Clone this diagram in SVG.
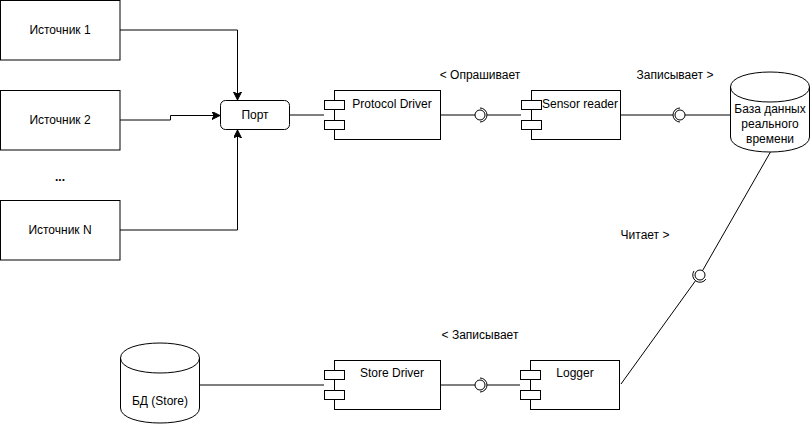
<svg xmlns="http://www.w3.org/2000/svg" width="811" height="426" viewBox="0 0 811 426">
<style>
.box{fill:#fff;stroke:#000;stroke-width:1}
.t{font-family:"Liberation Sans",Arial,sans-serif;font-size:12px;fill:#000;text-anchor:middle}
.ln{fill:none;stroke:#000;stroke-width:1}
</style>
<defs>
<marker id="arr" markerWidth="10" markerHeight="10" refX="8" refY="4" orient="auto" markerUnits="userSpaceOnUse">
<path d="M0,0 L8,4 L0,8 L2,4 Z" fill="#000" stroke="#000" stroke-width="1"/>
</marker>
</defs>
<rect width="811" height="426" fill="#fff"/>
<g id="connectors">
<path class="ln" d="M120,30 H237.5 V100" marker-end="url(#arr)"/>
<path class="ln" d="M120,120 H170.5 V115.5 H220" marker-end="url(#arr)"/>
<path class="ln" d="M120,230 H237.5 V130" marker-end="url(#arr)"/>
<path class="ln" d="M290,115 H324"/>
<path class="ln" d="M441,115 H475"/>
<circle class="ln" cx="480" cy="115" r="5"/>
<path class="ln" d="M480,108 A7,7 0 0 1 480,122"/>
<path class="ln" d="M487,115 H521"/>
<path class="ln" d="M620,115 H673"/>
<path class="ln" d="M680,108 A7,7 0 0 0 680,122"/>
<circle class="ln" cx="680" cy="115" r="5"/>
<path class="ln" d="M685,115 H730"/>
<path class="ln" d="M771,151 L702.5,270.7"/>
<circle class="ln" cx="700" cy="275" r="5"/>
<path class="ln" d="M706,279.1 A7,7 0 0 1 694,270.9"/>
<path class="ln" d="M695.3,281 L621,384"/>
<path class="ln" d="M200,385 H324"/>
<path class="ln" d="M441,385 H475"/>
<circle class="ln" cx="480" cy="385" r="5"/>
<path class="ln" d="M480,378 A7,7 0 0 1 480,392"/>
<path class="ln" d="M487,385 H520"/>
<text class="t" x="480" y="79">&lt; Опрашивает</text>
<text class="t" x="675" y="79">Записывает &gt;</text>
<text class="t" x="645" y="239">Читает &gt;</text>
<text class="t" x="480" y="339">&lt; Записывает</text>
</g>
<g id="src1"><rect class="box" x="0.5" y="0.5" width="119.5" height="59.5"/><text class="t" x="60" y="34">Источник 1</text></g>
<g id="src2"><rect class="box" x="0.5" y="90.5" width="119.5" height="59.5"/><text class="t" x="60" y="124">Источник 2</text></g>
<g id="dots"><text class="t" x="60" y="181" font-weight="bold">...</text></g>
<g id="srcN"><rect class="box" x="0.5" y="200.5" width="119.5" height="59.5"/><text class="t" x="60" y="234">Источник N</text></g>
<g id="port"><rect class="box" x="220.5" y="100.5" width="69" height="29" rx="5"/><text class="t" x="255" y="119">Порт</text></g>
<g id="protocol-driver">
<rect class="box" x="334.5" y="90.5" width="106" height="49"/>
<rect class="box" x="324.5" y="100.5" width="20" height="9"/>
<rect class="box" x="324.5" y="120.5" width="20" height="9"/>
<text class="t" x="392" y="108">Protocol Driver</text>
</g>
<g id="sensor-reader">
<rect class="box" x="531.5" y="90.5" width="89" height="49"/>
<rect class="box" x="521.5" y="100.5" width="20" height="9"/>
<rect class="box" x="521.5" y="120.5" width="20" height="9"/>
<text class="t" x="580" y="108">Sensor reader</text>
</g>
<g id="rt-db">
<path class="box" d="M730.5,87 C730.5,67 809.5,67 809.5,87 L809.5,137 C809.5,157 730.5,157 730.5,137 Z"/>
<path class="ln" d="M730.5,87 C730.5,107 809.5,107 809.5,87"/>
<text class="t" x="770" y="113">База данных</text>
<text class="t" x="770" y="128">реального</text>
<text class="t" x="770" y="143">времени</text>
</g>
<g id="store-db">
<path class="box" d="M120.5,358 C120.5,338 199.5,338 199.5,358 L199.5,408 C199.5,428 120.5,428 120.5,408 Z"/>
<path class="ln" d="M120.5,358 C120.5,378 199.5,378 199.5,358"/>
<text class="t" x="160" y="405">БД (Store)</text>
</g>
<g id="store-driver">
<rect class="box" x="334.5" y="360.5" width="106" height="49"/>
<rect class="box" x="324.5" y="370.5" width="20" height="9"/>
<rect class="box" x="324.5" y="390.5" width="20" height="9"/>
<text class="t" x="392" y="377">Store Driver</text>
</g>
<g id="logger">
<rect class="box" x="530.5" y="360.5" width="89" height="49"/>
<rect class="box" x="520.5" y="370.5" width="20" height="9"/>
<rect class="box" x="520.5" y="390.5" width="20" height="9"/>
<text class="t" x="575" y="377">Logger</text>
</g>
</svg>
